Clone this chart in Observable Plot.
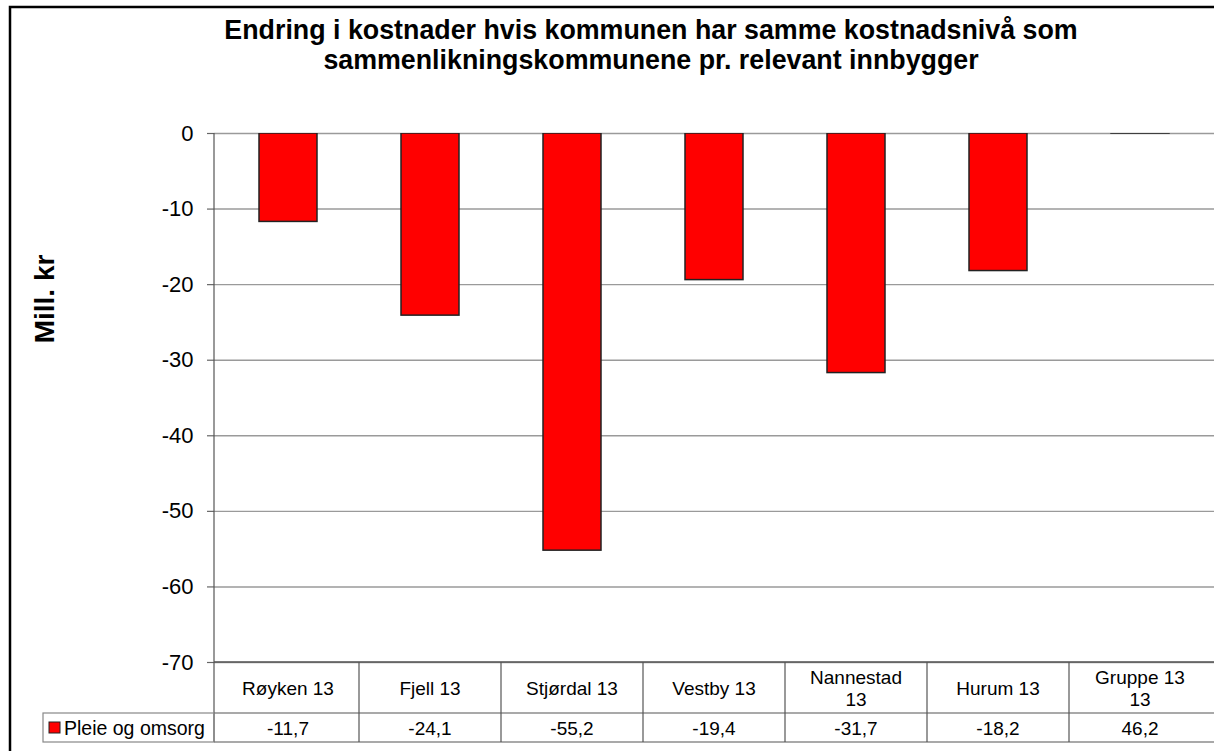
<!DOCTYPE html>
<html><head><meta charset="utf-8">
<script src="https://cdn.jsdelivr.net/npm/d3@7"></script>
<script src="https://cdn.jsdelivr.net/npm/@observablehq/plot@0.6"></script>
<style>
html,body{margin:0;padding:0;background:#fff;overflow:hidden;}
#chart svg{display:block;}
</style>
</head><body><div id="chart"></div>
<script>
const categories = ["Røyken 13","Fjell 13","Stjørdal 13","Vestby 13","Nannestad 13","Hurum 13","Gruppe 13 13"];
const headerLabels = [["Røyken 13"],["Fjell 13"],["Stjørdal 13"],["Vestby 13"],["Nannestad","13"],["Hurum 13"],["Gruppe 13","13"]];
const values = [-11.7,-24.1,-55.2,-19.4,-31.7,-18.2,46.2];
const seriesName = "Pleie og omsorg";
const yTicks = [0,-10,-20,-30,-40,-50,-60,-70];
const titleLines = ["Endring i kostnader hvis kommunen har samme kostnadsnivå som","sammenlikningskommunene pr. relevant innbygger"];
const yLabel = "Mill. kr";

const FONT = "'Liberation Sans', Arial, sans-serif";
const data = categories.map((c,i)=>({cat:c, value:values[i]}));
const fmt = v => v.toFixed(1).replace(".", ",");

const plot = Plot.plot({
  width:1214, height:751,
  marginTop:133, marginBottom:89, marginLeft:214, marginRight:0,
  style:{fontFamily:FONT, fontSize:"19px", color:"#000", background:"#fff", overflow:"visible"},
  x:{domain:categories, paddingInner:0.594, paddingOuter:0.297, axis:null},
  y:{domain:[-70,0], axis:null},
  marks:[
    Plot.gridY(yTicks, {stroke:"#9a9a9a", strokeOpacity:1, strokeWidth:1.4}),
    Plot.barY(data, {x:"cat", y:"value", fill:"#ff0000", stroke:"#222", strokeWidth:1.5, clip:true}),
    Plot.axisY(yTicks, {anchor:"left", label:null, tickFormat:d=>String(d), tickSize:7, tickPadding:14, fontSize:22, stroke:"#666", strokeWidth:1.2})
  ]
});
document.getElementById("chart").appendChild(plot);

const svg = d3.select(plot);
const xs = plot.scale("x"), ys = plot.scale("y");
const step = xs.step, bw = xs.bandwidth;
const y0 = ys.apply(0), yB = ys.apply(-70);
const rowH1 = 51, rowH2 = 29;
const xLeft = 214, xRight = 1214;

const addText = (g, x, y, txt, size, anchor, weight) =>
  g.append("text").attr("x",x).attr("y",y).attr("text-anchor",anchor).attr("font-family",FONT)
   .attr("font-size",size).attr("font-weight",weight||"normal").attr("fill","#000").text(txt);

// axis line
svg.append("line").attr("x1",xLeft).attr("x2",xLeft).attr("y1",y0).attr("y2",yB+rowH1+rowH2).attr("stroke","#555").attr("stroke-width",1.2);
svg.append("line").attr("x1",xLeft).attr("x2",xRight).attr("y1",yB).attr("y2",yB).attr("stroke","#555").attr("stroke-width",1.4);

// table
const tbl = svg.append("g");
const colLeft = c => xs.apply(c) - (step - bw)/2;
categories.forEach((c,i)=>{
  const xl = colLeft(c);
  if(i>0) tbl.append("line").attr("x1",xl).attr("x2",xl).attr("y1",yB).attr("y2",yB+rowH1+rowH2).attr("stroke","#555").attr("stroke-width",1.2);
  const cx = xs.apply(c) + bw/2;
  const lines = headerLabels[i];
  const t = tbl.append("text").attr("text-anchor","middle").attr("font-family",FONT).attr("font-size",19).attr("fill","#000");
  const startY = yB + rowH1/2 - (lines.length-1)*11 + 7;
  lines.forEach((l,j)=> t.append("tspan").attr("x",cx).attr("y",startY + j*22).text(l));
  addText(tbl, cx, yB+rowH1+rowH2/2+7, fmt(values[i]), 19, "middle");
});
tbl.append("line").attr("x1",xLeft).attr("x2",xRight).attr("y1",yB+rowH1).attr("y2",yB+rowH1).attr("stroke","#555").attr("stroke-width",1.2);
tbl.append("line").attr("x1",xLeft).attr("x2",xRight).attr("y1",yB+rowH1+rowH2).attr("y2",yB+rowH1+rowH2).attr("stroke","#555").attr("stroke-width",1.2);
// legend cell
tbl.append("rect").attr("x",43).attr("y",yB+rowH1).attr("width",xLeft-43).attr("height",rowH2).attr("fill","none").attr("stroke","#888").attr("stroke-width",1.2);
tbl.append("rect").attr("x",49).attr("y",yB+rowH1+9).attr("width",11).attr("height",11).attr("fill","#ff0000").attr("stroke","#222").attr("stroke-width",1);
addText(tbl, 64, yB+rowH1+rowH2/2+7, seriesName, 19.5, "start");

// title
titleLines.forEach((l,j)=> addText(svg, 651, 39+j*30, l, 26.8, "middle", "bold"));
// y label
svg.append("text").attr("transform","translate(54,299) rotate(-90)").attr("text-anchor","middle").attr("font-family",FONT).attr("font-weight","bold").attr("font-size",28).attr("fill","#000").text(yLabel);
// outer frame
svg.append("rect").attr("x",10).attr("y",7).attr("width",1400).attr("height",900).attr("fill","none").attr("stroke","#000").attr("stroke-width",2.5);
</script>
</body></html>
